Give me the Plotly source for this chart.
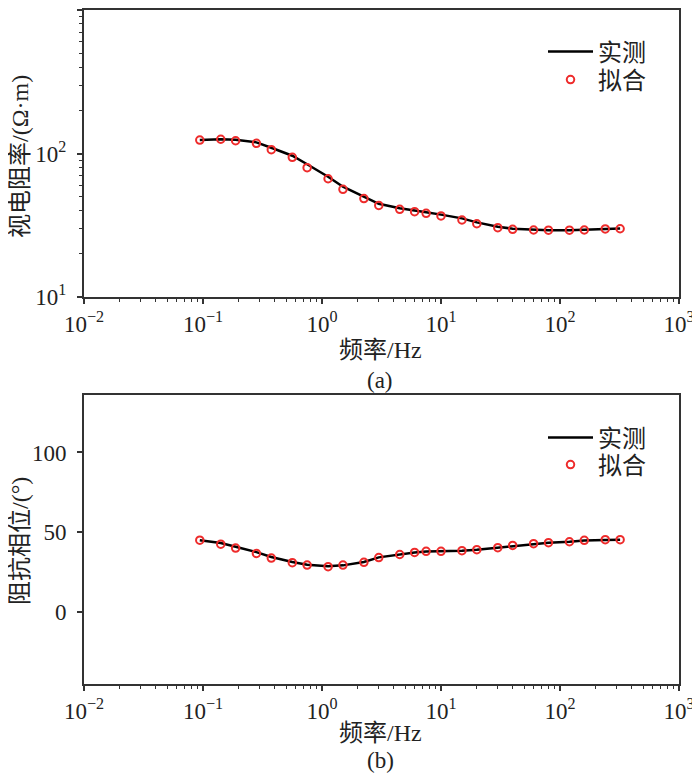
import plotly.graph_objects as go

freq = [0.094, 0.141, 0.188, 0.281, 0.375, 0.563, 0.75, 1.125, 1.5, 2.25, 3, 4.5, 6,
        7.5, 10, 15, 20, 30, 40, 60, 80, 120, 160, 240, 320]
rho_obs = [124, 125.5, 124.5, 119.6, 109.7, 96.5, 84.1, 68.9, 58.7, 50.0, 44.6, 41.5, 39.8,
           38.9, 37.5, 35.3, 33.1, 30.9, 29.9, 29.3, 29.2, 29.2, 29.4, 29.7, 30.0]
rho_fit = [124, 125.7, 122.7, 117.8, 106.3, 94.1, 79.6, 66.7, 56.3, 48.5, 43.5, 40.8, 39.3,
           38.3, 36.7, 34.4, 32.4, 30.4, 29.6, 29.3, 29.2, 29.2, 29.3, 29.8, 29.9]
phase_obs = [45.0, 43.3, 41.0, 37.6, 34.5, 31.4, 29.7, 28.8, 29.3, 31.4, 34.3, 36.3, 37.4,
             38.0, 38.1, 38.4, 39.1, 40.4, 41.7, 42.8, 43.5, 44.1, 44.8, 45.2, 45.3]
phase_fit = [45.1, 42.6, 40.1, 36.8, 33.9, 31.0, 29.5, 28.5, 29.5, 31.2, 34.2, 36.1, 37.4,
             38.1, 38.1, 38.5, 39.1, 40.4, 41.8, 42.9, 43.5, 44.1, 45.0, 45.4, 45.4]

x_tickvals = [0.01, 0.1, 1, 10, 100, 1000]
x_ticktext = ["10<sup>−2</sup>", "10<sup>−1</sup>", "10<sup>0</sup>",
              "10<sup>1</sup>", "10<sup>2</sup>", "10<sup>3</sup>"]
rho_tickvals = [10, 100, 1000]
rho_ticktext = ["10<sup>1</sup>", "10<sup>2</sup>", "10<sup>3</sup>"]
phase_tickvals = [0, 50, 100]

FONT = "Liberation Serif, Times New Roman, Noto Sans CJK SC, serif"
AX = "#333333"
TXT = "#222222"
RED = "#ee2b2b"
W, H = 700, 774
OFF = 8  # page body margin


def px(x):
    return (x - OFF) / W


def py(y):
    return 1 - (y - OFF) / H


fig = go.Figure()
fig.add_trace(go.Scatter(x=freq, y=rho_obs, mode="lines", name="实测",
                         line=dict(color="black", width=2.5),
                         xaxis="x", yaxis="y", legend="legend"))
fig.add_trace(go.Scatter(x=freq, y=rho_fit, mode="markers", name="拟合",
                         marker=dict(symbol="circle-open", size=7.5, color=RED,
                                     line=dict(width=2, color=RED)),
                         xaxis="x", yaxis="y", legend="legend2"))
fig.add_trace(go.Scatter(x=freq, y=phase_obs, mode="lines", name="实测",
                         line=dict(color="black", width=2.5),
                         xaxis="x2", yaxis="y2", legend="legend3"))
fig.add_trace(go.Scatter(x=freq, y=phase_fit, mode="markers", name="拟合",
                         marker=dict(symbol="circle-open", size=7.5, color=RED,
                                     line=dict(width=2, color=RED)),
                         xaxis="x2", yaxis="y2", legend="legend4"))

xdom = [px(84), px(679)]
top_dom = [py(297), py(10)]
bot_dom = [py(684), py(395)]

common = dict(showline=True, linecolor=AX, linewidth=2, mirror=True,
              ticks="outside", tickcolor=AX, tickwidth=1.5, ticklen=5,
              showgrid=False, zeroline=False, automargin=False,
              tickfont=dict(family=FONT, size=23, color=TXT))
minor_log = dict(ticks="outside", ticklen=3, tickcolor=AX, tickwidth=1.2,
                 dtick="D1", showgrid=False)
logx = dict(type="log", range=[-2, 3], tickvals=x_tickvals, ticktext=x_ticktext,
            minor=minor_log)

legend_common = dict(xanchor="left", yanchor="middle", bgcolor="rgba(0,0,0,0)",
                     font=dict(family=FONT, size=24, color=TXT),
                     tracegroupgap=0, itemwidth=45)

fig.update_layout(
    width=W, height=H,
    paper_bgcolor="white", plot_bgcolor="white",
    margin=dict(l=0, r=0, t=0, b=0, autoexpand=False),
    showlegend=True,
    xaxis=dict(domain=xdom, anchor="y", **logx, **common),
    yaxis=dict(domain=top_dom, anchor="x", type="log", range=[1, 3],
               tickvals=rho_tickvals, ticktext=rho_ticktext,
               minor=minor_log, ticklabelstandoff=6, **common),
    xaxis2=dict(domain=xdom, anchor="y2", **logx, **common),
    yaxis2=dict(domain=bot_dom, anchor="x2", range=[-45, 136],
                tickvals=phase_tickvals, ticklabelstandoff=6, **common),
    legend=dict(x=px(543), y=py(52), **legend_common),
    legend2=dict(x=px(543), y=py(80), **legend_common),
    legend3=dict(x=px(543), y=py(438), **legend_common),
    legend4=dict(x=px(543), y=py(465), **legend_common),
)


def ann(text, x, y, angle=0, size=24):
    fig.add_annotation(text=text, x=px(x), y=py(y), xref="paper", yref="paper",
                       showarrow=False, textangle=angle, xanchor="center", yanchor="middle",
                       font=dict(family=FONT, size=size, color=TXT))


ann("视电阻率/(Ω·m)", 20, 157, angle=-90, size=24)
ann("阻抗相位/(°)", 20, 541, angle=-90, size=24)
ann("频率/Hz", 380, 350)
ann("(a)", 380, 380, size=23)
ann("频率/Hz", 380, 733)
ann("(b)", 380, 760, size=23)

fig.write_html("out.html")
